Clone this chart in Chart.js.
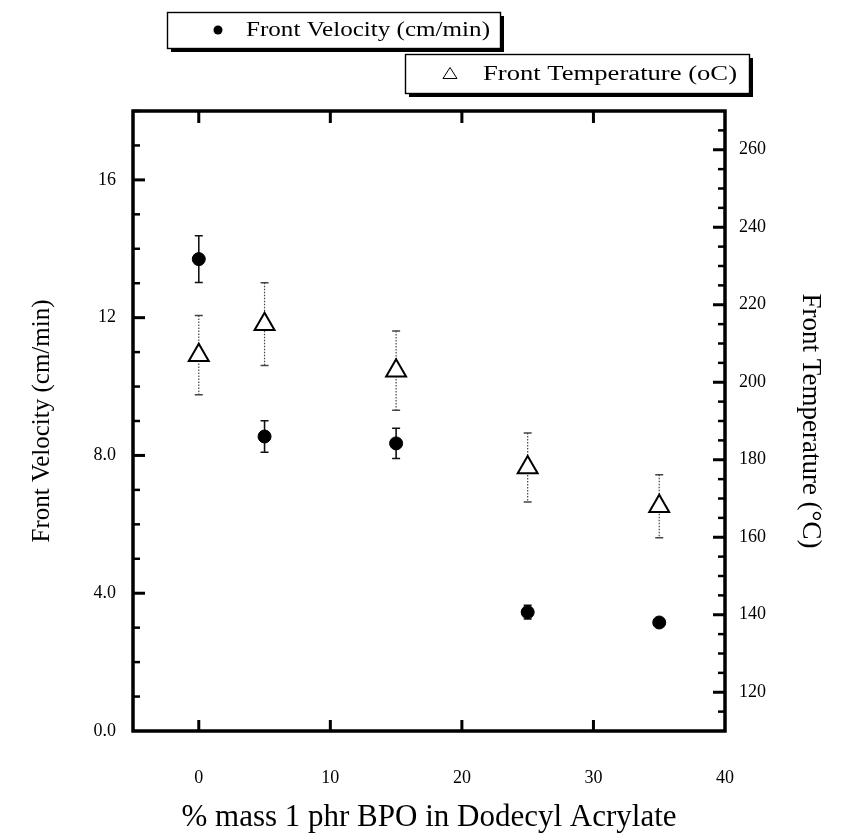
<!DOCTYPE html>
<html>
<head>
<meta charset="utf-8">
<script src="https://cdn.jsdelivr.net/npm/chart.js@4.4.1/dist/chart.umd.min.js"></script>
<style>
  html, body { margin: 0; padding: 0; background: #ffffff; }
  #wrap { width: 854px; height: 838px; position: relative; }
</style>
</head>
<body>
<div id="wrap"><canvas id="chart" width="854" height="838"></canvas></div>
<script>
// Loading of benzoyl peroxide (x) against front velocity and front temperature
const bpoMass = [0, 5, 15, 25, 35];
const frontVelocity = [13.7, 8.55, 8.35, 3.45, 3.15];
const frontVelocityErr = [0.68, 0.46, 0.44, 0.2, 0.05];
const frontTemperature = [207, 215, 203, 178, 168];
const frontTemperatureErr = [10.2, 10.7, 10.2, 8.9, 8.1];

// Axis ticks
const xTickValues = [0, 10, 20, 30, 40];
const xTickLabels = ['0', '10', '20', '30', '40'];
const velocityTickValues = [0, 4, 8, 12, 16];
const velocityTickLabels = ['0.0', '4.0', '8.0', '12', '16'];
const temperatureTickValues = [120, 140, 160, 180, 200, 220, 240, 260];
const temperatureTickLabels = ['120', '140', '160', '180', '200', '220', '240', '260'];

const velocityLabel = 'Front Velocity (cm/min)';
const temperatureLabel = 'Front Temperature (oC)';

const SERIF = '"Liberation Serif", "Times New Roman", serif';

function pairs(xs, ys) {
  return xs.map((x, i) => ({ x: x, y: ys[i] }));
}

// Vertical error bars with short caps, drawn under the markers
const errorBars = {
  id: 'errorBars',
  beforeDatasetsDraw(chart) {
    const ctx = chart.ctx;
    chart.data.datasets.forEach((ds, i) => {
      const meta = chart.getDatasetMeta(i);
      const yScale = chart.scales[ds.yAxisID];
      ctx.save();
      ctx.strokeStyle = ds.errorColor;
      ctx.lineWidth = ds.errorWidth;
      ctx.setLineDash(ds.errorDash);
      meta.data.forEach((pt, j) => {
        const v = ds.data[j].y, e = ds.errors[j];
        if (!e) return;
        const yTop = yScale.getPixelForValue(v + e);
        const yBot = yScale.getPixelForValue(v - e);
        const x = pt.x, cap = 4;
        ctx.beginPath();
        ctx.moveTo(x, yTop); ctx.lineTo(x, yBot);
        ctx.stroke();
        ctx.save();
        ctx.setLineDash([]);
        ctx.lineWidth = 1.5;
        ctx.beginPath();
        ctx.moveTo(x - cap, yTop); ctx.lineTo(x + cap, yTop);
        ctx.moveTo(x - cap, yBot); ctx.lineTo(x + cap, yBot);
        ctx.stroke();
        ctx.restore();
      });
      ctx.restore();
    });
  }
};

// Heavy box frame with inward major and minor ticks on all four sides
const frameTicks = {
  id: 'frameTicks',
  afterDatasetsDraw(chart) {
    const ctx = chart.ctx;
    const a = chart.chartArea;
    const x = chart.scales.x, yL = chart.scales.y, yR = chart.scales.y2;
    ctx.save();
    ctx.strokeStyle = '#000';
    ctx.lineCap = 'butt';

    // left axis: minor every 1, major every 4
    for (let v = Math.ceil(yL.min); v <= yL.max; v += 1) {
      if (v === yL.min) continue;
      const p = yL.getPixelForValue(v);
      const major = v % 4 === 0;
      ctx.lineWidth = major ? 3 : 2.5;
      ctx.beginPath();
      ctx.moveTo(a.left, p); ctx.lineTo(a.left + (major ? 12 : 7), p);
      ctx.stroke();
    }
    // right axis: minor every 5, major every 20
    for (let v = Math.ceil(yR.min / 5) * 5; v <= yR.max; v += 5) {
      if (v === yR.min || v === yR.max) continue;
      const p = yR.getPixelForValue(v);
      const major = v % 20 === 0;
      ctx.lineWidth = major ? 3 : 2.5;
      ctx.beginPath();
      ctx.moveTo(a.right, p); ctx.lineTo(a.right - (major ? 12 : 7), p);
      ctx.stroke();
    }
    // bottom and top: majors only
    x.ticks.forEach(t => {
      if (t.value <= x.min || t.value >= x.max) return;
      const p = x.getPixelForValue(t.value);
      ctx.lineWidth = 3;
      ctx.beginPath();
      ctx.moveTo(p, a.bottom); ctx.lineTo(p, a.bottom - 11);
      ctx.moveTo(p, a.top); ctx.lineTo(p, a.top + 12);
      ctx.stroke();
    });

    ctx.lineWidth = 3.5;
    ctx.strokeRect(a.left, a.top, a.right - a.left, a.bottom - a.top);
    ctx.restore();
  }
};

// Two offset legend boxes with a drop shadow
const shadowLegend = {
  id: 'shadowLegend',
  afterDraw(chart) {
    const ctx = chart.ctx;
    const boxes = [
      { x: 167, y: 12, w: 333, h: 36, ds: 0, text: velocityLabel, mx: 218, tx: 246, tw: 244 },
      { x: 405, y: 54, w: 344, h: 39, ds: 1, text: temperatureLabel, mx: 450, tx: 483, tw: 254 }
    ];
    boxes.forEach(b => {
      ctx.save();
      ctx.fillStyle = '#000';
      ctx.fillRect(b.x + 4, b.y + 4, b.w, b.h);
      ctx.fillStyle = '#fff';
      ctx.fillRect(b.x, b.y, b.w, b.h);
      ctx.strokeStyle = '#000';
      ctx.lineWidth = 1.4;
      ctx.strokeRect(b.x + 0.5, b.y + 0.5, b.w, b.h);

      const ds = chart.data.datasets[b.ds];
      const cy = b.y + b.h / 2;
      ctx.lineWidth = 1;
      if (ds.pointStyle === 'triangle') {
        ctx.fillStyle = '#fff';
        ctx.beginPath();
        ctx.moveTo(b.mx, cy - 6);
        ctx.lineTo(b.mx + 7, cy + 5);
        ctx.lineTo(b.mx - 7, cy + 5);
        ctx.closePath();
        ctx.fill(); ctx.stroke();
      } else {
        ctx.fillStyle = '#000';
        ctx.beginPath();
        ctx.arc(b.mx, cy, 4.5, 0, Math.PI * 2);
        ctx.fill();
      }
      ctx.fillStyle = '#000';
      ctx.textBaseline = 'middle';
      ctx.font = '20px ' + SERIF;
      ctx.translate(b.tx, cy);
      const w = ctx.measureText(b.text).width;
      ctx.scale(b.tw / w, 1);
      ctx.fillText(b.text, 0, 1);
      ctx.restore();
    });
  }
};

new Chart(document.getElementById('chart'), {
  type: 'scatter',
  data: {
    datasets: [
      {
        label: velocityLabel,
        data: pairs(bpoMass, frontVelocity),
        errors: frontVelocityErr,
        errorColor: '#111',
        errorWidth: 1.6,
        errorDash: [],
        yAxisID: 'y',
        pointStyle: 'circle',
        pointRadius: 6.5,
        pointBackgroundColor: '#000',
        pointBorderColor: '#000',
        pointBorderWidth: 1
      },
      {
        label: temperatureLabel,
        data: pairs(bpoMass, frontTemperature),
        errors: frontTemperatureErr,
        errorColor: '#444',
        errorWidth: 1.2,
        errorDash: [1.5, 1.5],
        yAxisID: 'y2',
        pointStyle: 'triangle',
        pointRadius: 11.5,
        pointBackgroundColor: '#fff',
        pointBorderColor: '#000',
        pointBorderWidth: 2
      }
    ]
  },
  options: {
    responsive: false,
    animation: false,
    events: [],
    layout: { padding: { top: 111, left: 0, right: 0, bottom: 0 } },
    plugins: { legend: { display: false }, tooltip: { enabled: false } },
    scales: {
      x: {
        type: 'linear',
        position: 'bottom',
        min: -5,
        max: 40,
        afterBuildTicks: s => { s.ticks = xTickValues.map(v => ({ value: v })); },
        afterFit: s => { s.height = 107; },
        grid: { display: false, drawTicks: false },
        border: { display: false },
        ticks: {
          padding: 36,
          color: '#000',
          font: { family: SERIF, size: 18 },
          callback: (v, i) => xTickLabels[i]
        },
        title: {
          display: true,
          text: '% mass 1 phr BPO in Dodecyl Acrylate',
          color: '#000',
          font: { family: SERIF, size: 31 },
          padding: { top: 0, bottom: 2 }
        }
      },
      y: {
        type: 'linear',
        position: 'left',
        min: 0,
        max: 18,
        afterBuildTicks: s => { s.ticks = velocityTickValues.map(v => ({ value: v })); },
        afterFit: s => { s.width = 133; },
        grid: { display: false, drawTicks: false },
        border: { display: false },
        ticks: {
          padding: 17,
          color: '#000',
          font: { family: SERIF, size: 18 },
          callback: (v, i) => velocityTickLabels[i]
        },
        title: {
          display: true,
          text: 'Front Velocity (cm/min)',
          color: '#000',
          font: { family: SERIF, size: 25 },
          padding: { top: 27, bottom: 0 }
        }
      },
      y2: {
        type: 'linear',
        position: 'right',
        min: 110,
        max: 270,
        afterBuildTicks: s => { s.ticks = temperatureTickValues.map(v => ({ value: v })); },
        afterFit: s => { s.width = 129; },
        grid: { display: false, drawTicks: false },
        border: { display: false },
        ticks: {
          padding: 14,
          color: '#000',
          font: { family: SERIF, size: 18 },
          callback: (v, i) => temperatureTickLabels[i]
        },
        title: {
          display: true,
          text: 'Front Temperature (\u00B0C)',
          color: '#000',
          font: { family: SERIF, size: 27 },
          padding: { top: 28, bottom: 0 }
        }
      }
    }
  },
  plugins: [errorBars, frameTicks, shadowLegend]
});
</script>
</body>
</html>
